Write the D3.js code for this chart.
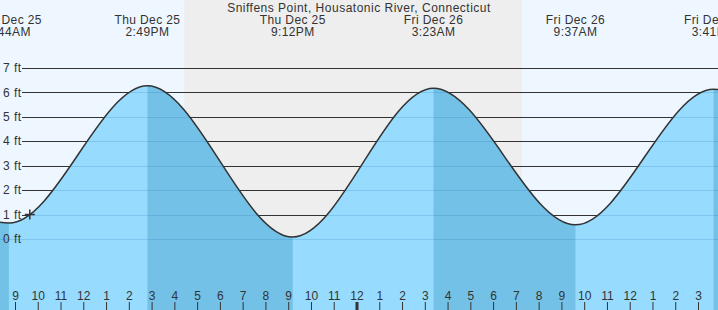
<!DOCTYPE html>
<html>
<head>
<meta charset="utf-8">
<script src="https://cdn.jsdelivr.net/npm/d3@7"></script>
<style>
  html, body { margin: 0; padding: 0; background: #fff; }
  svg { display: block; font-family: "Liberation Sans", Arial, sans-serif; }
</style>
</head>
<body>
<svg id="chart" width="718" height="310"></svg>
<script>
// ---- data ----
const title = "Sniffens Point, Housatonic River, Connecticut";
const extremeTimes = ["2025-12-25 02:31", "2025-12-25 08:44", "2025-12-25 14:49", "2025-12-25 21:12",
                      "2025-12-26 03:23", "2025-12-26 09:37", "2025-12-26 15:41", "2025-12-26 21:55"];
const extremeHeights = [6.2, 0.65, 6.27, 0.08, 6.17, 0.58, 6.13, 0.5];
const extremeTypes = ["H", "L", "H", "L", "H", "L", "H", "L"];
const labelledExtremes = [1, 2, 3, 4, 5, 6];
const sunset = "2025-12-25 16:26";
const sunrise = "2025-12-26 07:16";
const nowTime = "2025-12-25 09:39";
const nowHeight = 1.0;
const feetTicks = [0, 1, 2, 3, 4, 5, 6, 7];
const viewStart = "2025-12-25 08:20:30";
const viewEnd = "2025-12-26 15:52:40";

// ---- setup ----
const W = 718, H = 310;
const parse = d3.timeParse("%Y-%m-%d %H:%M");
const parseS = d3.timeParse("%Y-%m-%d %H:%M:%S");
const ext = extremeTimes.map((t, i) => ({ t: parse(t), h: extremeHeights[i], type: extremeTypes[i] }));

const x = d3.scaleTime().domain([parseS(viewStart), parseS(viewEnd)]).range([0, W]);
const y = d3.scaleLinear().domain([0, 7]).range([239, 68]);

const svg = d3.select("#chart");
const defs = svg.append("defs");

const colDay = "#eef7ff", colNight = "#eeeeee";
const colFill = "#97dcff", colFall = "#73c1e6";

// background
svg.append("rect").attr("x", 0).attr("y", 0).attr("width", W).attr("height", H).attr("fill", colDay);
svg.append("rect")
  .attr("x", x(parse(sunset))).attr("y", 0)
  .attr("width", x(parse(sunrise)) - x(parse(sunset))).attr("height", H)
  .attr("fill", colNight);

// dark gridlines
svg.append("g").selectAll("line").data(feetTicks).join("line")
  .attr("x1", 22).attr("x2", W)
  .attr("y1", d => Math.round(y(d)) + 0.5).attr("y2", d => Math.round(y(d)) + 0.5)
  .attr("stroke", "#333").attr("stroke-width", 1);

// area
const area = d3.area().x(d => x(d.t)).y0(H).y1(d => y(d.h)).curve(d3.curveMonotoneX);
const line = d3.line().x(d => x(d.t)).y(d => y(d.h)).curve(d3.curveMonotoneX);

defs.append("clipPath").attr("id", "areaClip").append("path").attr("d", area(ext));

svg.append("path").attr("d", area(ext)).attr("fill", colFill);

// falling tide bands (high -> following low)
const bands = [];
for (let i = 0; i < ext.length - 1; i++) {
  if (ext[i].type === "H") bands.push([ext[i].t, ext[i + 1].t]);
}
const gArea = svg.append("g").attr("clip-path", "url(#areaClip)");
gArea.selectAll("rect.fall").data(bands).join("rect")
  .attr("class", "fall")
  .attr("x", d => x(d[0])).attr("y", 0)
  .attr("width", d => x(d[1]) - x(d[0])).attr("height", H)
  .attr("fill", colFall);
// gridlines inside water
gArea.selectAll("line").data(feetTicks).join("line")
  .attr("x1", 0).attr("x2", W)
  .attr("y1", d => Math.round(y(d)) + 0.5).attr("y2", d => Math.round(y(d)) + 0.5)
  .attr("stroke", "rgba(40,120,180,0.22)").attr("stroke-width", 1);

// curve
svg.append("path").attr("d", line(ext)).attr("fill", "none")
  .attr("stroke", "#333").attr("stroke-width", 1.5);

// current marker
const mx = x(parse(nowTime)), my = y(nowHeight);
svg.append("path")
  .attr("d", `M${mx - 5},${my}H${mx + 5}M${mx},${my - 5}V${my + 5}`)
  .attr("stroke", "#333").attr("stroke-width", 1.5).attr("fill", "none");

// y labels
svg.append("g").selectAll("text").data(feetTicks).join("text")
  .attr("x", 3).attr("y", d => y(d)).attr("dy", "0.35em")
  .attr("font-size", 12).attr("letter-spacing", 0.5).attr("fill", "#333")
  .text(d => d + " ft");

// title
svg.append("text").attr("x", 359).attr("y", 12).attr("text-anchor", "middle")
  .attr("font-size", 12).attr("letter-spacing", 0.5).attr("fill", "#333").text(title);

// extreme labels
const fDay = d3.timeFormat("%a %b %d");
const fTime = d3.timeFormat("%-I:%M%p");
const gLab = svg.append("g").selectAll("g").data(labelledExtremes.map(i => ext[i])).join("g")
  .attr("transform", d => `translate(${x(d.t)},0)`);
gLab.append("text").attr("y", 24).attr("text-anchor", "middle").attr("font-size", 12)
  .attr("letter-spacing", 0.4).attr("fill", "#333").text(d => fDay(d.t));
gLab.append("text").attr("y", 36).attr("text-anchor", "middle").attr("font-size", 12)
  .attr("letter-spacing", 0.4).attr("fill", "#333").text(d => fTime(d.t));

// hour axis
const axis = d3.axisTop(x).ticks(d3.timeHour.every(1))
  .tickFormat(d3.timeFormat("%-I")).tickSize(8).tickPadding(2);
const gAx = svg.append("g").attr("transform", `translate(0,${H})`).call(axis);
gAx.select(".domain").remove();
gAx.selectAll("text").attr("font-size", 12).attr("fill", "#333")
  .attr("font-family", "Liberation Sans, Arial, sans-serif");
gAx.selectAll("line").attr("stroke", "#333");
gAx.selectAll(".tick").filter(d => d.getHours() === 0).select("line")
  .attr("stroke-width", 3);
</script>
</body>
</html>
